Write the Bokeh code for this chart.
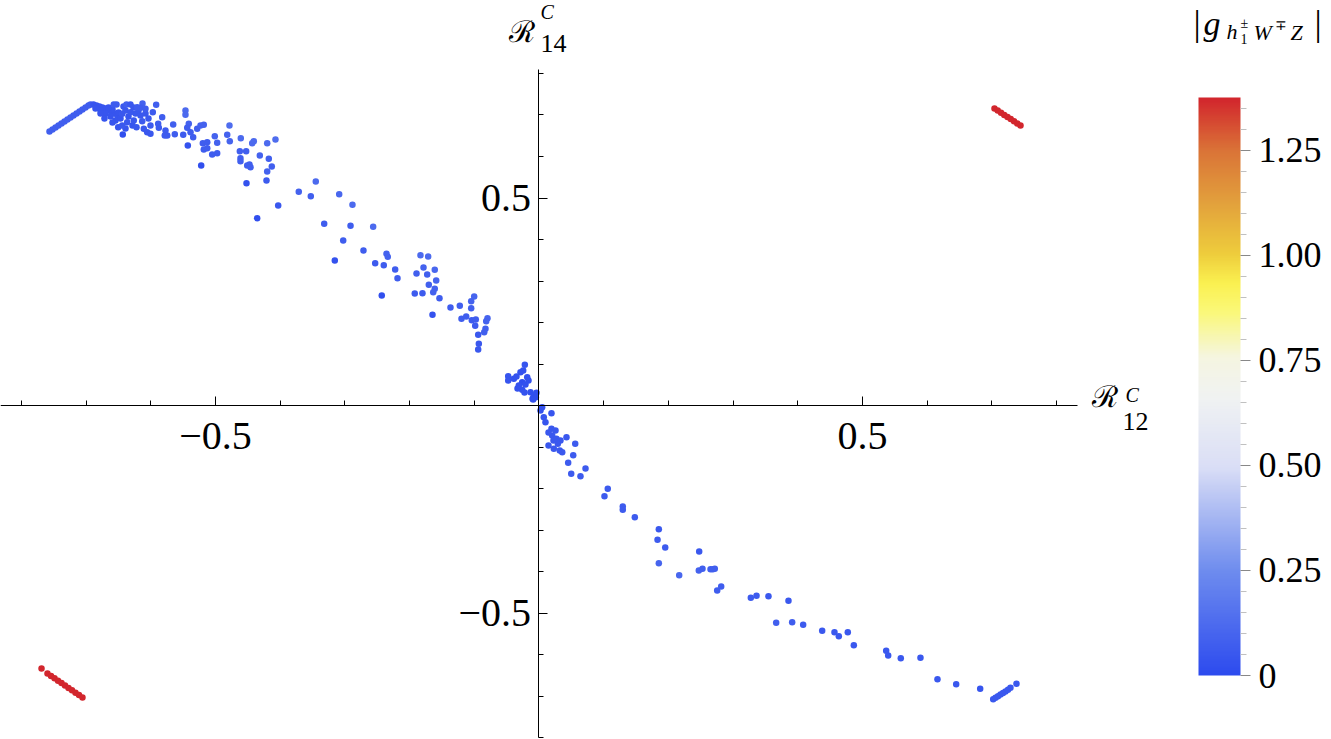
import numpy as np
from bokeh.plotting import figure
from bokeh.models import (Range1d, LinearAxis, FixedTicker, ColorBar, LinearColorMapper,
                          Label, PrintfTickFormatter, ColumnDataSource)
from bokeh.embed import file_html
from bokeh.resources import INLINE

# ---------------- data: blue points (R12, R14, |g|) ----------------
arc_x = [-0.7566, -0.7519, -0.7473, -0.7427, -0.7380, -0.7334, -0.7288, -0.7241, -0.7195, -0.7148,
         -0.7102, -0.7056, -0.7009, -0.6963, -0.6932, -0.6886, -0.6839, -0.6793, -0.6747, -0.6700,
         -0.6654, -0.6607, -0.6561, -0.6515]
arc_y = [0.6602, 0.6651, 0.6699, 0.6747, 0.6795, 0.6843, 0.6891, 0.6940, 0.6988, 0.7036,
         0.7084, 0.7132, 0.7181, 0.7229, 0.7253, 0.7253, 0.7229, 0.7205, 0.7181, 0.7157,
         0.7108, 0.7084, 0.7036, 0.6988]
arc_g = [0.08, 0.08, 0.08, 0.08, 0.08, 0.08, 0.08, 0.08, 0.07, 0.07,
         0.07, 0.07, 0.07, 0.07, 0.07, 0.04, 0.04, 0.04, 0.04, 0.04,
         0.04, 0.04, 0.04, 0.04]

clu_x = [-0.6777, -0.6700, -0.6623, -0.6592, -0.6654, -0.6499, -0.6546, -0.6468, -0.6592, -0.6716,
         -0.6422, -0.6376, -0.6314, -0.6267, -0.6345, -0.6236, -0.6159, -0.6082, -0.6036, -0.6128,
         -0.6190, -0.6283, -0.6391, -0.6855, -0.6777]
clu_y = [0.7108, 0.7036, 0.6964, 0.7132, 0.7181, 0.7060, 0.6867, 0.6916, 0.6819, 0.6916,
         0.7205, 0.7253, 0.7253, 0.7181, 0.6964, 0.7036, 0.6988, 0.7036, 0.6916, 0.7277,
         0.7108, 0.6747, 0.6675, 0.7157, 0.7036]
clu_g = [0.04, 0.04, 0.04, 0.04, 0.04, 0.04, 0.04, 0.04, 0.04, 0.04,
         0.05, 0.08, 0.05, 0.05, 0.04, 0.05, 0.05, 0.05, 0.05, 0.09,
         0.05, 0.04, 0.04, 0.04, 0.04]

up_x = [-0.6433, -0.6572, -0.6530, -0.6210, -0.6159, -0.6082, -0.5917, -0.5969, -0.5824, -0.6391,
        -0.6314, -0.6442, -0.6504, -0.6442, -0.6365, -0.6263, -0.6221, -0.6133, -0.6108, -0.6056,
        -0.6005, -0.6005, -0.5886, -0.5876, -0.5773, -0.5746, -0.5784, -0.5654, -0.5629, -0.5464,
        -0.5464, -0.5413, -0.5437, -0.5499, -0.5345, -0.5386, -0.5428, -0.5283, -0.5232, -0.5181,
        -0.5196, -0.5128, -0.5181, -0.5128, -0.5011, -0.4974, -0.5051, -0.4974, -0.5221, -0.4819,
        -0.4784, -0.4779, -0.4609, -0.4624, -0.4526, -0.4614, -0.4614, -0.4433, -0.4408, -0.4510,
        -0.4475, -0.4459, -0.4521, -0.4315, -0.4201, -0.4073, -0.4176, -0.4130, -0.4201, -0.4212,
        -0.4031, -0.4356]
up_y = [0.6530, 0.7253, 0.7253, 0.7188, 0.7173, 0.7149, 0.7246, 0.7067, 0.6947, 0.7108,
        0.7067, 0.7029, 0.6706, 0.6747, 0.6826, 0.6867, 0.6706, 0.6851, 0.6667, 0.6586,
        0.6547, 0.6747, 0.6788, 0.6692, 0.6626, 0.6506, 0.6506, 0.6771, 0.6537, 0.7108,
        0.7005, 0.6788, 0.6692, 0.6523, 0.6465, 0.6586, 0.6265, 0.6667, 0.6747, 0.6764,
        0.6320, 0.6345, 0.6169, 0.6200, 0.6489, 0.6330, 0.6048, 0.6080, 0.5783, 0.6523,
        0.6747, 0.6369, 0.6441, 0.6128, 0.6128, 0.5959, 0.5887, 0.6320, 0.6369, 0.5783,
        0.5807, 0.5742, 0.5357, 0.6024, 0.6320, 0.6410, 0.5944, 0.5759, 0.5638, 0.5422,
        0.4819, 0.4513]
up_g = [0.02, 0.06, 0.06, 0.07, 0.07, 0.07, 0.08, 0.06, 0.07, 0.05,
        0.05, 0.05, 0.04, 0.05, 0.05, 0.05, 0.05, 0.06, 0.05, 0.05,
        0.05, 0.06, 0.07, 0.06, 0.06, 0.06, 0.06, 0.08, 0.07, 0.12,
        0.12, 0.09, 0.07, 0.06, 0.07, 0.07, 0.03, 0.08, 0.09, 0.09,
        0.07, 0.07, 0.07, 0.07, 0.09, 0.09, 0.07, 0.07, 0.02, 0.09,
        0.13, 0.10, 0.12, 0.08, 0.08, 0.08, 0.08, 0.12, 0.12, 0.08,
        0.08, 0.08, 0.03, 0.09, 0.12, 0.13, 0.08, 0.08, 0.09, 0.06,
        0.05, 0.02]

mid_x = [-0.3713, -0.3450, -0.3527, -0.3088, -0.2883, -0.3320, -0.2913, -0.2563, -0.3026, -0.3156,
         -0.2713, -0.2357, -0.2337, -0.2532, -0.2399, -0.2223, -0.2187, -0.2430, -0.1832, -0.1713,
         -0.1785, -0.1611, -0.1893, -0.1728, -0.1589, -0.1703, -0.1611, -0.1635, -0.1920, -0.1801,
         -0.1538, -0.1646, -0.1368, -0.1224, -0.1002, -0.1048, -0.1048, -0.1198, -0.1125, -0.1039,
         -0.0977, -0.0796, -0.0816, -0.0986, -0.0827, -0.0847, -0.0940, -0.0930, -0.0940]
mid_y = [0.5149, 0.5398, 0.5043, 0.5092, 0.4836, 0.4378, 0.4330, 0.4306, 0.3976, 0.3494,
         0.3735, 0.3655, 0.3583, 0.3429, 0.3381, 0.3277, 0.3067, 0.2651, 0.3622, 0.3590,
         0.3325, 0.3270, 0.3181, 0.3157, 0.3012, 0.2908, 0.2812, 0.2730, 0.2699, 0.2706,
         0.2585, 0.2186, 0.2361, 0.2402, 0.2626, 0.2513, 0.2345, 0.2089, 0.2145, 0.2055,
         0.2072, 0.2104, 0.2031, 0.1920, 0.1848, 0.1766, 0.1704, 0.1487, 0.1349]
mid_g = [0.09, 0.12, 0.08, 0.11, 0.12, 0.07, 0.07, 0.12, 0.07, 0.03,
         0.07, 0.09, 0.09, 0.06, 0.07, 0.07, 0.07, 0.02, 0.12, 0.12,
         0.09, 0.11, 0.08, 0.08, 0.10, 0.08, 0.09, 0.09, 0.06, 0.06,
         0.07, 0.03, 0.07, 0.08, 0.10, 0.09, 0.08, 0.07, 0.07, 0.06,
         0.07, 0.10, 0.09, 0.06, 0.08, 0.08, 0.05, 0.05, 0.05]

org_x = [-0.0219, -0.0476, -0.0476, -0.0389, -0.0260, -0.0182, -0.0286, -0.0244, -0.0312, -0.0260,
         -0.0131, -0.0080, -0.0090, -0.0039, -0.0049, -0.0100, -0.0348, -0.0209, -0.0162, -0.0332,
         -0.0224,
         0.0049, 0.0023, 0.0193, 0.0074, 0.0100, 0.0193, 0.0255, 0.0204, 0.0270, 0.0332,
         0.0425, 0.0291, 0.0229, 0.0321, 0.0359, 0.0560, 0.0529, 0.0451, 0.0719, 0.0498,
         0.0641, 0.1063, 0.1012, 0.0147, 0.0224, 0.0147]
org_y = [0.0981, 0.0706, 0.0602, 0.0643, 0.0561, 0.0682, 0.0802, 0.0843, 0.0482, 0.0378,
         0.0320, 0.0241, 0.0145, 0.0306, 0.0200, 0.0161, 0.0699, 0.0506, 0.0602, 0.0410,
         0.0313,
         -0.0041, -0.0120, -0.0186, -0.0282, -0.0402, -0.0561, -0.0602, -0.0723, -0.0802, -0.0843,
         -0.0764, -0.0923, -0.1043, -0.1084, -0.1125, -0.0923, -0.1198, -0.1381, -0.1518, -0.1646,
         -0.1704, -0.2007, -0.2186, -0.0651, -0.0843, -0.0964]
org_g = [0.04, 0.04, 0.04, 0.03, 0.02, 0.03, 0.03, 0.03, 0.03, 0.03,
         0.02, 0.02, 0.02, 0.02, 0.02, 0.02, 0.03, 0.03, 0.03, 0.03,
         0.03,
         0.03, 0.03, 0.04, 0.04, 0.04, 0.05, 0.05, 0.05, 0.05, 0.05,
         0.05, 0.05, 0.05, 0.05, 0.05, 0.06, 0.06, 0.06, 0.06, 0.06,
         0.06, 0.06, 0.06, 0.05, 0.05, 0.05]

low_x = [0.1295, 0.1295, 0.1481, 0.1852, 0.1832, 0.1951, 0.1852, 0.2476, 0.2167, 0.2470,
         0.2527, 0.2651, 0.2717, 0.2686, 0.2816, 0.2754, 0.3274, 0.3362, 0.3547, 0.3856,
         0.3666, 0.3913, 0.4083, 0.4377, 0.4567, 0.4634, 0.4773, 0.4866, 0.5366, 0.5397,
         0.5592, 0.5896, 0.6159, 0.6448, 0.6819, 0.7020, 0.7056, 0.7094, 0.7133, 0.7172,
         0.7210, 0.7249, 0.7287, 0.7380]
low_y = [-0.2434, -0.2513, -0.2692, -0.2981, -0.3236, -0.3422, -0.3800, -0.3518, -0.4089, -0.3976,
         -0.3935, -0.3945, -0.3935, -0.3945, -0.4361, -0.4458, -0.4634, -0.4586, -0.4595, -0.4706,
         -0.5236, -0.5222, -0.5284, -0.5429, -0.5463, -0.5559, -0.5463, -0.5776, -0.5911, -0.6024,
         -0.6089, -0.6080, -0.6595, -0.6716, -0.6827, -0.7077, -0.7043, -0.7005, -0.6964, -0.6928,
         -0.6892, -0.6851, -0.6802, -0.6706]
low_g = [0.06, 0.06, 0.06, 0.05, 0.06, 0.06, 0.10, 0.05, 0.11, 0.09,
         0.08, 0.08, 0.08, 0.08, 0.07, 0.07, 0.06, 0.06, 0.05, 0.05,
         0.08, 0.07, 0.06, 0.05, 0.05, 0.05, 0.05, 0.05, 0.05, 0.05,
         0.05, 0.05, 0.05, 0.05, 0.04, 0.05, 0.05, 0.05, 0.05, 0.05,
         0.05, 0.05, 0.05, 0.05]

# ---------------- data: red points ----------------
red_x = [-0.7689, -0.7597, -0.7542, -0.7488, -0.7434, -0.7380, -0.7326, -0.7272, -0.7218, -0.7164,
         -0.7110, -0.7056,
         0.7040, 0.7090, 0.7141, 0.7191, 0.7241, 0.7291, 0.7342, 0.7392, 0.7442]
red_y = [-0.6337, -0.6458, -0.6516, -0.6573, -0.6631, -0.6689, -0.6747, -0.6805, -0.6863, -0.6920,
         -0.6978, -0.7036,
         0.7157, 0.7106, 0.7053, 0.7002, 0.6952, 0.6901, 0.6848, 0.6797, 0.6747]
red_g = [1.37, 1.37, 1.37, 1.37, 1.37, 1.37, 1.37, 1.37, 1.37, 1.37,
         1.37, 1.37,
         1.37, 1.37, 1.37, 1.37, 1.37, 1.37, 1.37, 1.37, 1.37]

# axis ticks / colorbar ticks
x_major = [-0.5, 0.5]
xy_minor = [-0.8, -0.7, -0.6, -0.4, -0.3, -0.2, -0.1, 0.1, 0.2, 0.3, 0.4, 0.6, 0.7, 0.8]
cb_major = [0.0, 0.25, 0.5, 0.75, 1.0, 1.25]
cb_minor = [0.05, 0.1, 0.15, 0.2, 0.3, 0.35, 0.4, 0.45, 0.55, 0.6, 0.65, 0.7,
            0.8, 0.85, 0.9, 0.95, 1.05, 1.1, 1.15, 1.2, 1.3, 1.35]
g_max = 1.375

# ---------------- colour map (temperature-like) ----------------
stops = [0.00, 0.18, 0.36, 0.48, 0.55, 0.63, 0.68, 0.73, 0.82, 0.91, 1.00]
rgbs = [(45, 75, 238), (110, 140, 238), (218, 222, 246), (240, 242, 242), (245, 245, 225),
        (250, 248, 120), (250, 240, 80), (238, 205, 60), (226, 160, 60), (218, 115, 55), (210, 38, 45)]
tt = np.linspace(0, 1, 256)
arr = np.array(rgbs, dtype=float)
palette = ["#%02x%02x%02x" % tuple(int(round(np.interp(t, stops, arr[:, k]))) for k in range(3)) for t in tt]
mapper = LinearColorMapper(palette=palette, low=0, high=g_max)

# ---------------- figure ----------------
W, H = 1331, 739
p = figure(width=W, height=H, output_backend="svg", toolbar_location=None,
           x_range=Range1d(-0.8323, 1.2249), y_range=Range1d(-0.8048, 0.9759),
           x_axis_location=None, y_axis_location=None, min_border=0)
p.outline_line_color = None
p.xgrid.visible = False
p.ygrid.visible = False
p.background_fill_color = "white"

bx = arc_x + clu_x + up_x + mid_x + org_x + low_x
by = arc_y + clu_y + up_y + mid_y + org_y + low_y
bg = arc_g + clu_g + up_g + mid_g + org_g + low_g
src_b = ColumnDataSource(dict(x=bx, y=by, g=bg))
src_r = ColumnDataSource(dict(x=red_x, y=red_y, g=red_g))

p.scatter("x", "y", source=src_b, size=6.5, line_color=None,
          fill_color={"field": "g", "transform": mapper})
p.scatter("x", "y", source=src_r, size=6.5, line_color=None,
          fill_color={"field": "g", "transform": mapper})

serif = "Liberation Serif"
xax = LinearAxis(fixed_location=0, ticker=FixedTicker(ticks=x_major, minor_ticks=xy_minor),
                 bounds=(-0.85, 0.832))
xax.major_label_overrides = {-0.5: "\u22120.5", 0.5: "0.5"}
yax = LinearAxis(fixed_location=0, ticker=FixedTicker(ticks=x_major, minor_ticks=xy_minor),
                 bounds=(-0.8, 0.81))
yax.major_label_overrides = {-0.5: "\u22120.5", 0.5: "0.5"}
for ax in (xax, yax):
    ax.axis_line_color = "black"
    ax.axis_line_width = 1
    ax.major_tick_in = 9
    ax.major_tick_out = 0
    ax.minor_tick_in = 5
    ax.minor_tick_out = 0
    ax.major_tick_line_color = "black"
    ax.minor_tick_line_color = "black"
    ax.major_label_text_font = serif
    ax.major_label_text_font_size = "40px"
    ax.major_label_text_color = "black"
xax.major_label_standoff = 17
yax.major_label_standoff = 8
p.add_layout(xax, "below")
p.add_layout(yax, "left")

# text pieces, anchored at their vertical middle
def lab(x, y, text, size, font=serif, style="normal", align="left"):
    p.add_layout(Label(x=x, y=y, text=text, text_font=font, text_font_size=size,
                       text_font_style=style, text_baseline="middle", text_align=align,
                       text_color="black"))

# R^C_12 and R^C_14
lab(0.8555, 0.0217, "\u211b", "30px", font="DejaVu Serif")
lab(0.9066, 0.0265, "C", "20px", style="italic")
lab(0.9019, -0.0386, "12", "26px")
lab(-0.0471, 0.9010, "\u211b", "30px", font="DejaVu Serif")
lab(0.0023, 0.9470, "C", "20px", style="italic")
lab(0.0023, 0.8723, "14", "26px")

# colorbar title |g_{h1± W∓ Z}|
lab(1.0116, 0.9205, "|", "36px")
lab(1.0270, 0.9205, "g", "34px", style="italic")
lab(1.0626, 0.9012, "h", "22px", style="italic")
lab(1.0842, 0.9205, "\u00b1", "14px")
lab(1.0842, 0.8843, "1", "14px")
lab(1.1043, 0.8988, "W", "22px", style="italic")
lab(1.1383, 0.9157, "\u2213", "14px")
lab(1.1615, 0.8988, "Z", "22px", style="italic")
lab(1.1987, 0.9205, "|", "36px")

cb = ColorBar(color_mapper=mapper, location=(1198, 64), width=42, height=578,
              padding=0, margin=0,
              ticker=FixedTicker(ticks=cb_major, minor_ticks=cb_minor),
              formatter=PrintfTickFormatter(format="%.2f"),
              major_label_overrides={0: "0"},
              major_label_text_font=serif, major_label_text_font_size="36px",
              major_label_text_color="black",
              major_tick_in=0, major_tick_out=10, minor_tick_in=0, minor_tick_out=6,
              major_tick_line_color="#888888", minor_tick_line_color="#c0c0c0",
              bar_line_color=None, background_fill_alpha=0, border_line_color=None,
              label_standoff=8)
p.add_layout(cb)

open("out.html", "w").write(file_html(p, INLINE))
